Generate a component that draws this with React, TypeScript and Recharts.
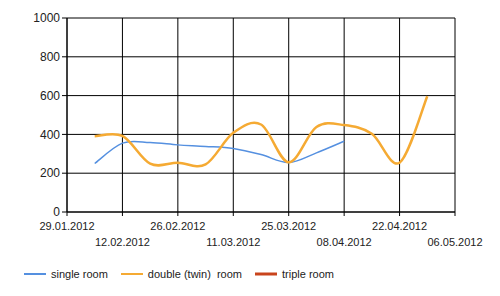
import { LineChart, Line, XAxis, YAxis, CartesianGrid } from 'recharts';

// weekly sample dates and prices
const dates = [
  '05.02.2012', '12.02.2012', '19.02.2012', '26.02.2012', '04.03.2012', '11.03.2012', '18.03.2012',
  '25.03.2012', '01.04.2012', '08.04.2012', '15.04.2012', '22.04.2012', '29.04.2012',
];
const single = [250, 355, 358, 346, 338, 327, 296, 255, 305, 365, null, null, null];
const double = [390, 392, 249, 254, 245, 408, 451, 256, 438, 448, 403, 254, 597];
const triple = [null, null, null, null, null, null, null, null, null, null, null, null, null];

const xTickLabels = [
  '29.01.2012', '12.02.2012', '26.02.2012', '11.03.2012', '25.03.2012', '08.04.2012', '22.04.2012', '06.05.2012',
];
const yTicks = [0, 200, 400, 600, 800, 1000];

const series = [
  { key: 'single', name: 'single room', color: '#5590E0', width: 1.5 },
  { key: 'double', name: 'double (twin)  room', color: '#F5AA33', width: 2.5 },
  { key: 'triple', name: 'triple room', color: '#C9441C', width: 3 },
];

const FONT = "'Liberation Sans', Arial, sans-serif";

const toTime = (s: string) => {
  const [d, m, y] = s.split('.').map(Number);
  return Date.UTC(y, m - 1, d);
};

const xTicks = xTickLabels.map(toTime);

const data = dates.map((d, i) => ({
  t: toTime(d),
  single: single[i],
  double: double[i],
  triple: triple[i],
}));

// catmull-rom style spline, passes through every point
function splineCurve(context: any) {
  let xs: number[] = [];
  let ys: number[] = [];
  return {
    areaStart() {},
    areaEnd() {},
    lineStart() {
      xs = [];
      ys = [];
    },
    point(x: number, y: number) {
      xs.push(+x);
      ys.push(+y);
    },
    lineEnd() {
      const n = xs.length;
      if (!n) return;
      context.moveTo(xs[0], ys[0]);
      if (n === 1) {
        context.lineTo(xs[0], ys[0]);
        return;
      }
      for (let i = 0; i < n - 1; i++) {
        const a = Math.max(i - 1, 0);
        const b = Math.min(i + 2, n - 1);
        const c1x = xs[i] + (xs[i + 1] - xs[a]) / 6;
        const c1y = ys[i] + (ys[i + 1] - ys[a]) / 6;
        const c2x = xs[i + 1] - (xs[b] - xs[i]) / 6;
        const c2y = ys[i + 1] - (ys[b] - ys[i]) / 6;
        context.bezierCurveTo(c1x, c1y, c2x, c2y, xs[i + 1], ys[i + 1]);
      }
    },
  };
}

const DateTick = (props: any) => {
  const { x, y, index } = props;
  return (
    <text
      x={x}
      y={y + (index % 2 ? 28 : 12)}
      textAnchor="middle"
      fontSize={11}
      fontFamily={FONT}
      fill="#222"
    >
      {xTickLabels[index]}
    </text>
  );
};

export default function App() {
  return (
    <div style={{ position: 'absolute', left: 0, top: 0, width: 500, height: 296, background: '#fff' }}>
      <LineChart width={500} height={296} data={data} margin={{ top: 18, right: 45, bottom: 0, left: 0 }}>
        <CartesianGrid stroke="#000" strokeWidth={1} />
        <XAxis
          dataKey="t"
          type="number"
          scale="time"
          domain={[xTicks[0], xTicks[xTicks.length - 1]]}
          ticks={xTicks}
          interval={0}
          height={84}
          tickSize={4}
          stroke="#000"
          tickLine={{ stroke: '#000' }}
          tick={<DateTick />}
        />
        <YAxis
          width={67}
          domain={[0, 1000]}
          ticks={yTicks}
          interval={0}
          tickSize={5}
          tickMargin={2}
          stroke="#000"
          tickLine={{ stroke: '#000' }}
          tick={{ fontSize: 12, fontFamily: FONT, fill: '#222' }}
        />
        {series.map((s) => (
          <Line
            key={s.key}
            dataKey={s.key}
            name={s.name}
            type={splineCurve as any}
            stroke={s.color}
            strokeWidth={s.width}
            dot={false}
            activeDot={false}
            isAnimationActive={false}
          />
        ))}
      </LineChart>
      <div
        style={{
          position: 'absolute',
          left: 24,
          top: 268,
          display: 'flex',
          alignItems: 'center',
          fontFamily: FONT,
          fontSize: 11,
          color: '#222',
        }}
      >
        {series.map((s) => (
          <div key={s.key} style={{ display: 'flex', alignItems: 'center', marginRight: 13 }}>
            <svg width={22} height={10}>
              <line x1={0} x2={22} y1={5} y2={5} stroke={s.color} strokeWidth={s.key === 'triple' ? 3 : 2} />
            </svg>
            <span style={{ marginLeft: 5, whiteSpace: 'pre' }}>{s.name}</span>
          </div>
        ))}
      </div>
    </div>
  );
}
